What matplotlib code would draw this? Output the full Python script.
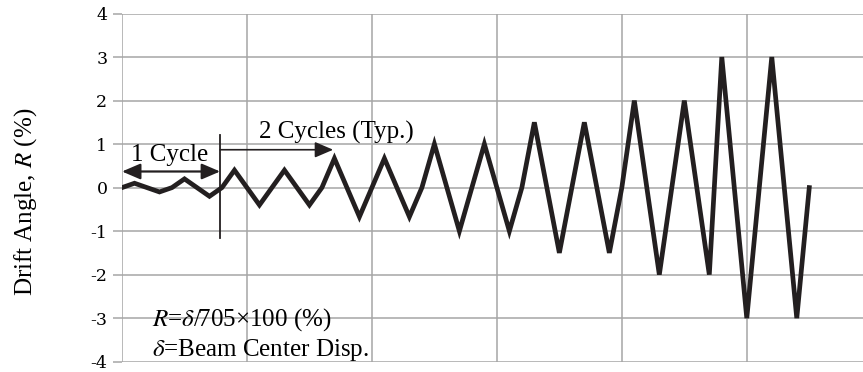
import matplotlib.pyplot as plt
import numpy as np

# loading protocol: step number and drift angle (%)
step = [0, 1, 3, 4, 5, 7, 8, 9, 11, 13, 15, 16, 17, 19, 21, 23, 24, 25, 27, 29,
        31, 32, 33, 35, 37, 39, 40, 41, 43, 45, 47, 48, 50, 52, 54, 55]
drift = [0, 0.1, -0.1, 0, 0.2, -0.2, 0, 0.4, -0.4, 0.4, -0.4, 0, 0.67, -0.67, 0.67, -0.67,
         0, 1, -1, 1, -1, 0, 1.5, -1.5, 1.5, -1.5, 0, 2, -2, 2, -2, 3, -3, 3, -3, 0]
yticks = [-4, -3, -2, -1, 0, 1, 2, 3, 4]

plt.rcParams['mathtext.fontset'] = 'stix'
grid_c = '#a6a6a6'
ink = '#231f20'

fig = plt.figure(figsize=(8.63, 3.72), dpi=100)
ax = fig.add_axes([122 / 863, 10.3 / 372, 1 - 122 / 863, 348.2 / 372])

ax.plot(step, drift, color=ink, linewidth=3.4, solid_joinstyle='miter', zorder=3)

ax.set_xlim(0, 59.3)
ax.set_ylim(-4, 4)
ax.set_xticks(np.arange(0, 60, 10))
ax.set_xticklabels([])
ax.tick_params(axis='x', length=0)
ax.set_yticks(yticks)
ax.set_yticklabels([str(t) for t in yticks], family='DejaVu Serif', fontsize=12.5)
ax.tick_params(axis='y', length=6.5, width=1.1, color=grid_c, pad=4)
ax.grid(True, color=grid_c, linewidth=1.1)
ax.set_axisbelow(True)
for s in ax.spines.values():
    s.set_visible(False)

ax.set_ylabel('Drift Angle, $R$ (%)', family='Liberation Serif', fontsize=18)
ax.yaxis.set_label_coords(-0.112, 0.46)

# cycle annotations
fs = 18
ax.plot([7.85, 7.85], [-1.15, 1.2], color=ink, linewidth=1.3, zorder=4)
ax.annotate('', xy=(0, 0.37), xytext=(7.85, 0.37),
            arrowprops=dict(arrowstyle='<|-|>,head_length=0.7,head_width=0.3', color=ink,
                            lw=1.6, mutation_scale=16, shrinkA=0, shrinkB=0))
ax.text(3.85, 0.75, '1 Cycle', family='Liberation Serif', fontsize=fs,
        ha='center', va='center')
ax.annotate('', xy=(16.9, 0.87), xytext=(7.85, 0.87),
            arrowprops=dict(arrowstyle='-|>,head_length=0.7,head_width=0.3', color=ink,
                            lw=1.2, mutation_scale=16, shrinkA=0, shrinkB=0))
ax.text(11.0, 1.26, '2 Cycles (Typ.)', family='Liberation Serif', fontsize=fs,
        ha='left', va='center')

ax.text(2.4, -3.03, '$R$=$\\delta$/705×100 (%)', family='Liberation Serif', fontsize=fs,
        ha='left', va='center')
ax.text(2.4, -3.72, '$\\delta$=Beam Center Disp.', family='Liberation Serif', fontsize=fs,
        ha='left', va='center')

fig.savefig('out.png', dpi=100)
